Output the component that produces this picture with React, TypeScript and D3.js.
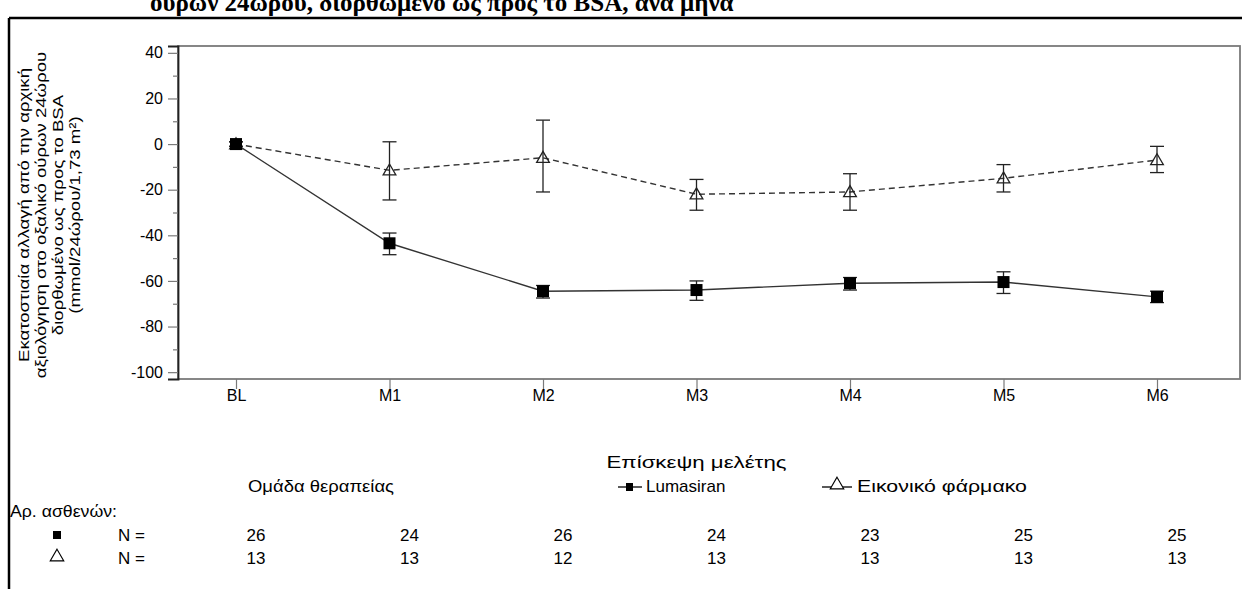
import { useEffect, useRef } from "react";
import * as d3 from "d3";

const visits = ["BL", "M1", "M2", "M3", "M4", "M5", "M6"];
const lumasiranMean = [0, -43.5, -64.5, -64, -61, -60.5, -67];
const lumasiranLow = [-1, -48.5, -67.5, -68.5, -64, -65.5, -69.5];
const lumasiranHigh = [1, -39, -62, -60, -58.5, -56, -64.5];
const placeboMean = [0, -11.5, -6, -22, -21, -15, -7];
const placeboLow = [-1, -24.5, -21, -29, -29, -21, -12.5];
const placeboHigh = [1, 1, 10.5, -15.5, -13, -9, -1];
const lumasiranN = [26, 24, 26, 24, 23, 25, 25];
const placeboN = [13, 13, 12, 13, 13, 13, 13];
const yTicks = [40, 20, 0, -20, -40, -60, -80, -100];
const yMinorTicks = [30, 10, -10, -30, -50, -70, -90];
const yLabelLines = [
  "Εκατοστιαία αλλαγή από την αρχική",
  "αξιολόγηση στο οξαλικό ούρων 24ώρου",
  "διορθωμένο ως προς το BSA",
  "(mmol/24ώρου/1,73 m²)",
];
const titleText = "ούρων 24ωρου, διορθωμένο ως προς το BSA, ανά μήνα";

const W = 1242;
const H = 589;
const frame = { left: 178, right: 1240, top: 46, bottom: 379 };
const FONT = "Arial, 'Liberation Sans', sans-serif";

export default function App() {
  const ref = useRef<SVGSVGElement>(null);

  useEffect(() => {
    const svg = d3.select(ref.current);
    svg.selectAll("*").remove();

    const x = d3.scalePoint<string>().domain(visits).range([236, 1157]);
    const y = d3.scaleLinear().domain([-103, 43]).range([frame.bottom, frame.top]);

    // outer box pieces (figure is cropped)
    svg.append("line").attr("x1", 9).attr("x2", 9).attr("y1", 18).attr("y2", H)
      .attr("stroke", "#000").attr("stroke-width", 2.5);
    svg.append("line").attr("x1", 9).attr("x2", W).attr("y1", 18).attr("y2", 18)
      .attr("stroke", "#000").attr("stroke-width", 2.5);

    // clipped title
    svg.append("text").attr("x", 150).attr("y", 11)
      .attr("font-family", "'Times New Roman', 'Liberation Serif', serif")
      .attr("font-weight", "bold").attr("font-size", 25).text(titleText);

    // plot frame
    svg.append("rect")
      .attr("x", frame.left).attr("y", frame.top)
      .attr("width", frame.right - frame.left).attr("height", frame.bottom - frame.top)
      .attr("fill", "none").attr("stroke", "#7a7a7a").attr("stroke-width", 1.8);

    // y axis
    const yAxis = svg.append("g").attr("transform", `translate(${frame.left},0)`)
      .call(d3.axisLeft(y).tickValues(yTicks).tickSize(10).tickPadding(5)
        .tickFormat((d) => String(d)));
    svg.append("g").attr("transform", `translate(${frame.left},0)`)
      .call(d3.axisLeft(y).tickValues(yMinorTicks).tickSize(5).tickFormat(() => ""))
      .call((g) => g.select(".domain").remove())
      .selectAll("line").attr("stroke", "#7a7a7a").attr("stroke-width", 1.2);
    yAxis.select(".domain").attr("stroke", "#222").attr("stroke-width", 1.8);
    yAxis.selectAll("line").attr("stroke", "#7a7a7a").attr("stroke-width", 1.2);
    yAxis.selectAll("text").attr("font-family", FONT).attr("font-size", 16).attr("fill", "#000");

    // x axis
    const xAxis = svg.append("g").attr("transform", `translate(0,${frame.bottom})`)
      .call(d3.axisBottom(x).tickSize(10).tickPadding(1));
    xAxis.select(".domain").remove();
    xAxis.selectAll("line").attr("stroke", "#7a7a7a").attr("stroke-width", 1.2);
    xAxis.selectAll("text").attr("font-family", FONT).attr("font-size", 16).attr("fill", "#000");

    // y label: narrow-looking, long lines
    const yl = svg.append("g").attr("font-family", FONT).attr("font-size", 15.5);
    yLabelLines.forEach((t, i) => {
      const cx = 24 + i * 17;
      yl.append("text").attr("transform", `translate(${cx},215) rotate(-90) scale(1.2,1)`)
        .attr("text-anchor", "middle").attr("dominant-baseline", "central").text(t);
    });

    const line = d3.line<number>().x((_, i) => x(visits[i])!).y((d) => y(d));

    const drawErr = (low: number[], high: number[]) => {
      const g = svg.append("g").attr("stroke", "#222").attr("stroke-width", 1.3);
      visits.forEach((v, i) => {
        const cx = x(v)!;
        g.append("line").attr("x1", cx).attr("x2", cx).attr("y1", y(low[i])).attr("y2", y(high[i]));
        g.append("line").attr("x1", cx - 7).attr("x2", cx + 7).attr("y1", y(low[i])).attr("y2", y(low[i]));
        g.append("line").attr("x1", cx - 7).attr("x2", cx + 7).attr("y1", y(high[i])).attr("y2", y(high[i]));
      });
    };

    // placebo (dashed, open triangles)
    svg.append("path").datum(placeboMean).attr("d", line).attr("fill", "none")
      .attr("stroke", "#333").attr("stroke-width", 1.4).attr("stroke-dasharray", "6,4");
    drawErr(placeboLow, placeboHigh);
    const tri = d3.symbol().type(d3.symbolTriangle).size(70);
    svg.append("g").selectAll("path").data(placeboMean).join("path")
      .attr("transform", (d, i) => `translate(${x(visits[i])},${y(d) + 1})`)
      .attr("d", tri).attr("fill", "none").attr("stroke", "#222").attr("stroke-width", 1.3);

    // lumasiran (solid, filled squares)
    svg.append("path").datum(lumasiranMean).attr("d", line).attr("fill", "none")
      .attr("stroke", "#333").attr("stroke-width", 1.4);
    drawErr(lumasiranLow, lumasiranHigh);
    svg.append("g").selectAll("rect").data(lumasiranMean).join("rect")
      .attr("x", (_, i) => x(visits[i])! - 6).attr("y", (d) => y(d) - 6)
      .attr("width", 12).attr("height", 12).attr("fill", "#000");

    // legend + table
    const t = svg.append("g").attr("font-family", FONT).attr("font-size", 17)
      .attr("dominant-baseline", "central");
    t.append("text").attr("x", x("M3")! - 90).attr("y", 462)
      .attr("textLength", 180).attr("lengthAdjust", "spacingAndGlyphs").text("Επίσκεψη μελέτης");
    t.append("text").attr("x", 248).attr("y", 486)
      .attr("textLength", 146).attr("lengthAdjust", "spacingAndGlyphs").text("Ομάδα θεραπείας");

    const lg = svg.append("g").attr("stroke", "#000").attr("stroke-width", 1.3);
    lg.append("line").attr("x1", 618).attr("x2", 642).attr("y1", 487).attr("y2", 487);
    svg.append("rect").attr("x", 626).attr("y", 483).attr("width", 7).attr("height", 8).attr("fill", "#000");
    t.append("text").attr("x", 646).attr("y", 486).text("Lumasiran");
    lg.append("line").attr("x1", 822).attr("x2", 852).attr("y1", 487).attr("y2", 487);
    svg.append("path").attr("transform", "translate(837,485)")
      .attr("d", d3.symbol().type(d3.symbolTriangle).size(80)).attr("fill", "#fff")
      .attr("stroke", "#000").attr("stroke-width", 1.1);
    t.append("text").attr("x", 857).attr("y", 486)
      .attr("textLength", 170).attr("lengthAdjust", "spacingAndGlyphs").text("Εικονικό φάρμακο");

    t.append("text").attr("x", 10).attr("y", 511)
      .attr("textLength", 107).attr("lengthAdjust", "spacingAndGlyphs").text("Αρ. ασθενών:");
    svg.append("rect").attr("x", 53).attr("y", 531).attr("width", 8).attr("height", 8).attr("fill", "#000");
    svg.append("path").attr("transform", "translate(57,557)")
      .attr("d", d3.symbol().type(d3.symbolTriangle).size(80)).attr("fill", "none")
      .attr("stroke", "#000").attr("stroke-width", 1.1);
    t.append("text").attr("x", 118).attr("y", 535).text("N =");
    t.append("text").attr("x", 118).attr("y", 558).text("N =");
    visits.forEach((v, i) => {
      t.append("text").attr("x", x(v)! + 20).attr("y", 535).attr("text-anchor", "middle").text(lumasiranN[i]);
      t.append("text").attr("x", x(v)! + 20).attr("y", 558).attr("text-anchor", "middle").text(placeboN[i]);
    });
  }, []);

  return (
    <svg
      ref={ref}
      width={W}
      height={H}
      style={{ position: "fixed", left: 0, top: 0, background: "#fff" }}
    />
  );
}
